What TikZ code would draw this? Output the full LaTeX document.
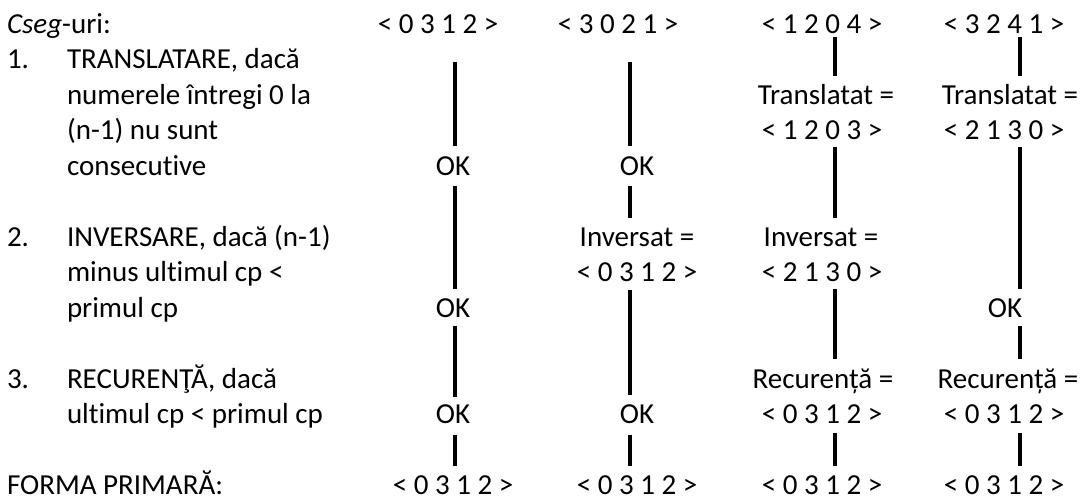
\documentclass[tikz,border=0pt]{standalone}
\usepackage{fontspec}
\setmainfont{Carlito}[Ligatures={NoCommon}]
\usetikzlibrary{calc}
\begin{document}
\begin{tikzpicture}[x=1pt,y=-1pt,
  lbl/.style={inner sep=0pt, outer sep=0pt, font=\fontsize{29}{35.45}\selectfont, anchor=base},
  lft/.style={lbl, anchor=base west},
  link/.style={line width=4.2pt}]
\useasboundingbox (0,0) rectangle (1081,501);

% left-hand legend
\node[lft] (cseg) at (7,33.5) {\textit{Cseg}-uri:};
\node[lft] (n1) at (7,68.95) {1.};
\node[lft] (t1a) at (67,68.95) {TRANSLATARE, dacă};
\node[lft] (t1b) at (67,104.4) {numerele întregi 0 la};
\node[lft] (t1c) at (67,139.85) {(n-1) nu sunt};
\node[lft] (t1d) at (67,175.3) {consecutive};
\node[lft] (n2) at (7,246.2) {2.};
\node[lft] (t2a) at (67,246.2) {INVERSARE, dacă (n-1)};
\node[lft] (t2b) at (67,281.65) {minus ultimul cp <};
\node[lft] (t2c) at (67,317.1) {primul cp};
\node[lft] (n3) at (7,388) {3.};
\node[lft] (t3a) at (67,388) {RECURENŢĂ, dacă};
\node[lft] (t3b) at (67,423.45) {ultimul cp < primul cp};
\node[lft] (fp) at (7,494.35) {FORMA PRIMARĂ:};

% x positions of the vertical links
\coordinate (x1) at (455,0);
\coordinate (x2) at (630,0);
\coordinate (x3) at (835,0);
\coordinate (x4) at (1020,0);

% column 1
\node[lbl] (h1) at (438,33.5) {< 0 3 1 2 >};
\node[lbl] (a1) at (453,175.3) {OK};
\node[lbl] (b1) at (453,317.1) {OK};
\node[lbl] (c1) at (453,423.45) {OK};
\node[lbl] (f1) at (453,494.35) {< 0 3 1 2 >};

% column 2
\node[lbl] (h2) at (618,33.5) {< 3 0 2 1 >};
\node[lbl] (a2) at (637,175.3) {OK};
\node[lbl] (i2) at (637,246.2) {Inversat =};
\node[lbl] (j2) at (637,281.65) {< 0 3 1 2 >};
\node[lbl] (c2) at (637,423.45) {OK};
\node[lbl] (f2) at (637,494.35) {< 0 3 1 2 >};

% column 3
\node[lbl] (h3) at (822,33.5) {< 1 2 0 4 >};
\node[lbl] (t3) at (826,104.4) {Translatat =};
\node[lbl] (u3) at (822,139.85) {< 1 2 0 3 >};
\node[lbl] (i3) at (821,246.2) {Inversat =};
\node[lbl] (j3) at (822,281.65) {< 2 1 3 0 >};
\node[lbl] (r3) at (823,388) {Recurență =};
\node[lbl] (s3) at (822,423.45) {< 0 3 1 2 >};
\node[lbl] (f3) at (822,494.35) {< 0 3 1 2 >};

% column 4
\node[lbl] (h4) at (1004,33.5) {< 3 2 4 1 >};
\node[lbl] (t4) at (1010,104.4) {Translatat =};
\node[lbl] (u4) at (1004,139.85) {< 2 1 3 0 >};
\node[lbl] (b4) at (1005,317.1) {OK};
\node[lbl] (r4) at (1008,388) {Recurență =};
\node[lbl] (s4) at (1004,423.45) {< 0 3 1 2 >};
\node[lbl] (f4) at (1004,494.35) {< 0 3 1 2 >};

% links, column 1
\draw[link] ($(h1.base -| x1)+(0,28.5)$) -- ($(a1.base -| x1)+(0,-29.5)$);
\draw[link] ($(a1.base -| x1)+(0,10.5)$) -- ($(b1.base -| x1)+(0,-28.5)$);
\draw[link] ($(b1.base -| x1)+(0,8.5)$) -- ($(c1.base -| x1)+(0,-26.75)$);
\draw[link] ($(c1.base -| x1)+(0,11.25)$) -- ($(f1.base -| x1)+(0,-28.25)$);

% links, column 2
\draw[link] ($(h2.base -| x2)+(0,28.5)$) -- ($(a2.base -| x2)+(0,-29.5)$);
\draw[link] ($(a2.base -| x2)+(0,10.5)$) -- ($(i2.base -| x2)+(0,-28)$);
\draw[link] ($(j2.base -| x2)+(0,8.25)$) -- ($(c2.base -| x2)+(0,-28.75)$);
\draw[link] ($(c2.base -| x2)+(0,11.25)$) -- ($(f2.base -| x2)+(0,-28.25)$);

% links, column 3
\draw[link] ($(h3.base -| x3)+(0,3.5)$) -- ($(t3.base -| x3)+(0,-28)$);
\draw[link] ($(u3.base -| x3)+(0,7.25)$) -- ($(i3.base -| x3)+(0,-28)$);
\draw[link] ($(j3.base -| x3)+(0,7.25)$) -- ($(r3.base -| x3)+(0,-29)$);
\draw[link] ($(s3.base -| x3)+(0,9.25)$) -- ($(f3.base -| x3)+(0,-28.25)$);

% links, column 4
\draw[link] ($(h4.base -| x4)+(0,3.5)$) -- ($(t4.base -| x4)+(0,-28)$);
\draw[link] ($(u4.base -| x4)+(0,7.25)$) -- ($(b4.base -| x4)+(0,-28.5)$);
\draw[link] ($(b4.base -| x4)+(0,8.5)$) -- ($(r4.base -| x4)+(0,-29)$);
\draw[link] ($(s4.base -| x4)+(0,9.25)$) -- ($(f4.base -| x4)+(0,-28.25)$);
\end{tikzpicture}
\end{document}
